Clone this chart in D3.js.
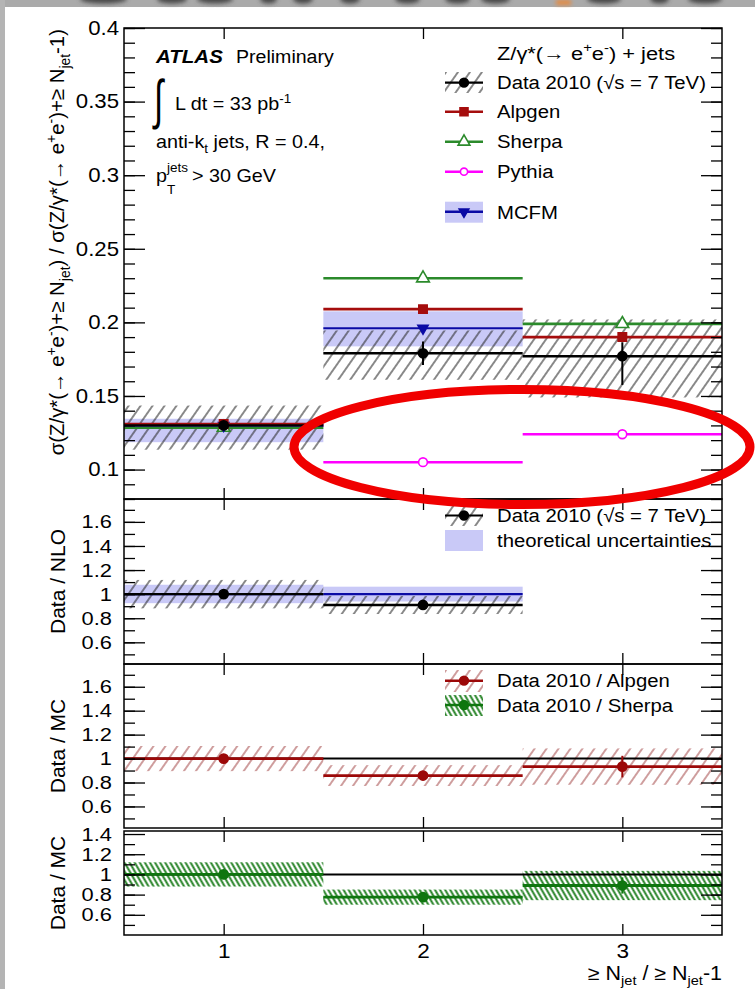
<!DOCTYPE html>
<html>
<head>
<meta charset="utf-8">
<script src="https://cdn.jsdelivr.net/npm/d3@7/dist/d3.min.js"></script>
<style>
html,body{margin:0;padding:0;background:#fff;}
svg{display:block;}
</style>
</head>
<body>
<svg id="chart" width="755" height="989"></svg>
<script>
// ---------------- data ----------------
const binEdges = [0.5, 1.5, 2.5, 3.5];
const nJet = [1, 2, 3];
const xTickLabels = ["1", "2", "3"];

// sigma(>= N jets) / sigma(>= N-1 jets)
const dataRatio  = [0.130, 0.179, 0.177];
const dataStatUp = [0.002, 0.008, 0.0095];
const dataStatDn = [0.002, 0.008, 0.0195];
const dataSystUp = [0.0135, 0.0155, 0.025];
const dataSystDn = [0.0165, 0.018, 0.028];

const alpgenRatio = [0.131, 0.209, 0.190];
const sherpaRatio = [0.1285, 0.230, 0.199];
const pythiaRatio = [0.1298, 0.105, 0.124];
const mcfmRatio   = [0.130, 0.196];
const mcfmLow     = [0.1186, 0.1837];
const mcfmHigh    = [0.1345, 0.2075];

// Data / NLO
const dataOverNlo     = [1.0, 0.91];
const dataOverNloStat = [0.01, 0.04];
const dataOverNloSyst = [0.118, 0.075];
const theoLow         = [0.925, 0.939];
const theoHigh        = [1.078, 1.062];

// Data / MC
const dataOverAlpgen     = [1.0, 0.858, 0.933];
const dataOverAlpgenStat = [0.01, 0.03, 0.09];
const dataOverAlpgenSyst = [0.105, 0.087, 0.152];

const dataOverSherpa     = [1.0, 0.775, 0.89];
const dataOverSherpaStat = [0.01, 0.03, 0.08];
const dataOverSherpaSyst = [0.12, 0.075, 0.145];

// axis ticks
const mainTicks  = [0.1, 0.15, 0.2, 0.25, 0.3, 0.35, 0.4];
const ratioTicks = [0.6, 0.8, 1, 1.2, 1.4, 1.6];
const lowerTicks = [0.6, 0.8, 1, 1.2, 1.4];

// ---------------- styling ----------------
const FONT = '"Liberation Sans", Arial, Helvetica, sans-serif';
const C = {
  data: "#000",
  alpgen: "#a50d0d",
  sherpa: "#2b8a2b",
  pythia: "#ff00ff",
  mcfm: "#0a0aa5",
  band: "#c9c9f7",
  ratioRed: "#9c0808",
  ratioGreen: "#0f760f"
};

const svg = d3.select("#chart");
const defs = svg.append("defs");

function hatch(id, color, width, spacing, angle) {
  const p = defs.append("pattern").attr("id", id)
    .attr("patternUnits", "userSpaceOnUse")
    .attr("width", spacing).attr("height", spacing)
    .attr("patternTransform", `rotate(${angle})`);
  p.append("line").attr("x1", spacing / 2).attr("x2", spacing / 2)
    .attr("y1", -2).attr("y2", spacing + 2)
    .attr("stroke", color).attr("stroke-width", width);
}
hatch("hData", "#2a2a2a", 1.1, 9.8, 35);
hatch("hAlp", "rgba(150,45,45,0.65)", 1.4, 9.8, 35);
hatch("hShe", "#1f7f1f", 1.9, 4.4, -30);

defs.append("filter").attr("id", "soft").attr("x", "-50%").attr("y", "-50%")
  .attr("width", "200%").attr("height", "200%")
  .append("feGaussianBlur").attr("stdDeviation", 2);

const x = d3.scaleLinear().domain([binEdges[0], binEdges[3]]).range([124, 722]);

const panels = {
  main: { y: d3.scaleLinear().domain([0.08, 0.4]).range([499, 28]),
          major: mainTicks, minor: d3.range(8, 41).map(v => v / 100), fs: 20, pad: 5, sx: 1.11 },
  nlo:  { y: d3.scaleLinear().domain([0.42, 1.79]).range([664, 499]),
          major: ratioTicks, minor: d3.range(5, 18).map(v => v / 10), fs: 19, pad: 12, sx: 1.15 },
  alp:  { y: d3.scaleLinear().domain([0.42, 1.79]).range([828, 664]),
          major: ratioTicks, minor: d3.range(5, 18).map(v => v / 10), fs: 19, pad: 12, sx: 1.15 },
  she:  { y: d3.scaleLinear().domain([0.4, 1.43]).range([935, 831]),
          major: lowerTicks, minor: d3.range(5, 14).map(v => v / 10), fs: 19, pad: 12, sx: 1.15 }
};

// screen-edge decoration
svg.append("rect").attr("x", 0).attr("y", 0).attr("width", 755).attr("height", 989).attr("fill", "#fff");
const edge = svg.append("g");
edge.append("rect").attr("x", 0).attr("y", 0).attr("width", 755).attr("height", 7).attr("fill", "#aaaaaa");
edge.append("rect").attr("x", 0).attr("y", 0).attr("width", 5).attr("height", 989).attr("fill", "#b4b4b4");
const topBlobs = [[80,127],[157,187],[197,233],[260,277],[293,313],[340,360],[395,420],[445,470],[481,510],[587,621],[650,669],[688,722]];
edge.selectAll(null).data(topBlobs).join("ellipse")
  .attr("cx", d => (d[0] + d[1]) / 2).attr("cy", -1)
  .attr("rx", d => (d[1] - d[0]) / 2).attr("ry", 4.5)
  .attr("fill", "#4a4a4a").attr("filter", "url(#soft)");
edge.append("rect").attr("x", 556).attr("y", 0).attr("width", 15).attr("height", 5)
  .attr("fill", "#e8893c").attr("filter", "url(#soft)");

// ---------------- helpers ----------------
// text block placed at (px,py), widened horizontally by sx
function rich(g, parts, size, px, py, sx, attrs) {
  const holder = g.append("g").attr("transform", `translate(${px},${py}) scale(${sx},1)`);
  const t = holder.append("text").attr("font-family", FONT).attr("font-size", size).attr("fill", "#000");
  Object.entries(attrs || {}).forEach(([k, v]) => t.attr(k, v));
  let cur = 0;
  parts.forEach(p => {
    const off = p.sub ? size * 0.28 : p.sup ? -size * 0.38 : 0;
    const ts = t.append("tspan").text(p.t).attr("dy", off - cur);
    if (p.sub || p.sup) ts.attr("font-size", size * 0.68);
    if (p.bold) ts.attr("font-weight", "bold");
    if (p.italic) ts.attr("font-style", "italic");
    cur = off;
  });
  return t;
}

function clipFor(id, p) {
  const [b, t] = p.y.range();
  defs.append("clipPath").attr("id", id).append("rect")
    .attr("x", x.range()[0]).attr("y", t).attr("width", x.range()[1] - x.range()[0]).attr("height", b - t);
  return svg.append("g").attr("clip-path", `url(#${id})`);
}

function bins(n) { return d3.range(n); }

function boxes(g, p, n, lo, hi, fill) {
  g.selectAll(null).data(bins(n)).join("rect")
    .attr("x", i => x(binEdges[i])).attr("width", i => x(binEdges[i + 1]) - x(binEdges[i]))
    .attr("y", i => p.y(hi(i))).attr("height", i => p.y(lo(i)) - p.y(hi(i)))
    .attr("fill", fill);
}

function steps(g, p, vals, color, w) {
  g.selectAll(null).data(bins(vals.length)).join("line")
    .attr("x1", i => x(binEdges[i])).attr("x2", i => x(binEdges[i + 1]))
    .attr("y1", i => p.y(vals[i])).attr("y2", i => p.y(vals[i]))
    .attr("stroke", color).attr("stroke-width", w);
}

function errs(g, p, vals, up, dn, color, w) {
  g.selectAll(null).data(bins(vals.length)).join("line")
    .attr("x1", i => x(nJet[i])).attr("x2", i => x(nJet[i]))
    .attr("y1", i => p.y(vals[i] + up[i])).attr("y2", i => p.y(vals[i] - dn[i]))
    .attr("stroke", color).attr("stroke-width", w);
}

function marks(g, p, vals, type, size, fill, stroke, rot) {
  const sym = d3.symbol().type(type).size(size);
  g.selectAll(null).data(bins(vals.length)).join("path")
    .attr("d", sym)
    .attr("transform", i => `translate(${x(nJet[i])},${p.y(vals[i])}) rotate(${rot || 0})`)
    .attr("fill", fill).attr("stroke", stroke).attr("stroke-width", 1.6);
}

function widen(sel, sx) {
  sel.selectAll("text").each(function () {
    const t = d3.select(this);
    const tx = +t.attr("x") || 0;
    t.attr("x", 0).attr("transform", `translate(${tx},0) scale(${sx},1)`);
  });
}

function axes(p, showX) {
  const [bot, top] = p.y.range();
  const [l, r] = x.range();
  const g = svg.append("g").attr("font-family", FONT);
  const style = s => {
    s.select(".domain").remove();
    s.selectAll("line").attr("stroke", "#000").attr("stroke-width", 1.3);
    s.attr("font-family", FONT).attr("font-size", p.fs);
    s.selectAll("text").attr("fill", "#000");
  };
  g.append("g").attr("transform", `translate(${l},0)`)
    .call(d3.axisLeft(p.y).tickValues(p.minor).tickSize(-11).tickFormat(""))
    .call(style);
  g.append("g").attr("transform", `translate(${l},0)`)
    .call(d3.axisLeft(p.y).tickValues(p.major).tickSize(-21).tickPadding(p.pad).tickFormat(d => String(d)))
    .call(style).call(s => widen(s, p.sx));
  g.append("g").attr("transform", `translate(${r},0)`)
    .call(d3.axisRight(p.y).tickValues(p.minor).tickSize(-11).tickFormat(""))
    .call(style);
  g.append("g").attr("transform", `translate(${r},0)`)
    .call(d3.axisRight(p.y).tickValues(p.major).tickSize(-21).tickFormat(""))
    .call(style);
  g.append("g").attr("transform", `translate(0,${top})`)
    .call(d3.axisTop(x).tickValues(nJet).tickSize(-11).tickFormat(""))
    .call(style);
  const bx = g.append("g").attr("transform", `translate(0,${bot})`)
    .call(d3.axisBottom(x).tickValues(nJet).tickSize(-11).tickPadding(8.5)
      .tickFormat(showX ? (d, i) => xTickLabels[i] : ""))
    .call(style);
  if (showX) { bx.attr("font-size", 20.5); widen(bx, 1.1); }
  g.append("rect").attr("x", l).attr("y", top).attr("width", r - l).attr("height", bot - top)
    .attr("fill", "none").attr("stroke", "#000").attr("stroke-width", 1.5);
}

// ---------------- main panel ----------------
{
  const p = panels.main;
  const g = clipFor("cMain", p);
  boxes(g, p, 2, i => mcfmLow[i], i => mcfmHigh[i], C.band);
  boxes(g, p, 3, i => dataRatio[i] - dataSystDn[i], i => dataRatio[i] + dataSystUp[i], "url(#hData)");
  steps(g, p, pythiaRatio, C.pythia, 2.4);
  marks(g, p, pythiaRatio, d3.symbolCircle, 60, "#fff", C.pythia);
  steps(g, p, sherpaRatio, C.sherpa, 2.6);
  marks(g, p, sherpaRatio, d3.symbolTriangle, 70, "#fff", C.sherpa);
  steps(g, p, mcfmRatio, C.mcfm, 2.2);
  marks(g, p, mcfmRatio, d3.symbolTriangle, 45, C.mcfm, C.mcfm, 180);
  steps(g, p, alpgenRatio, C.alpgen, 2.6);
  marks(g, p, alpgenRatio, d3.symbolSquare, 70, C.alpgen, C.alpgen);
  steps(g, p, dataRatio, C.data, 2.4);
  errs(g, p, dataRatio, dataStatUp, dataStatDn, C.data, 2);
  marks(g, p, dataRatio, d3.symbolCircle, 66, C.data, C.data);
  axes(p, false);
}

// ---------------- Data / NLO ----------------
{
  const p = panels.nlo;
  const g = clipFor("cNlo", p);
  boxes(g, p, 2, i => theoLow[i], i => theoHigh[i], C.band);
  boxes(g, p, 2, i => dataOverNlo[i] - dataOverNloSyst[i], i => dataOverNlo[i] + dataOverNloSyst[i], "url(#hData)");
  steps(g, p, [1, 1], C.mcfm, 2.4);
  steps(g, p, dataOverNlo, C.data, 2.4);
  errs(g, p, dataOverNlo, dataOverNloStat, dataOverNloStat, C.data, 2);
  marks(g, p, dataOverNlo, d3.symbolCircle, 66, C.data, C.data);
  axes(p, false);
}

// ---------------- Data / Alpgen ----------------
{
  const p = panels.alp;
  const g = clipFor("cAlp", p);
  boxes(g, p, 3, i => dataOverAlpgen[i] - dataOverAlpgenSyst[i], i => dataOverAlpgen[i] + dataOverAlpgenSyst[i], "url(#hAlp)");
  g.append("line").attr("x1", x(binEdges[0])).attr("x2", x(binEdges[3]))
    .attr("y1", p.y(1)).attr("y2", p.y(1)).attr("stroke", "#000").attr("stroke-width", 2);
  steps(g, p, dataOverAlpgen, C.ratioRed, 2.8);
  errs(g, p, dataOverAlpgen, dataOverAlpgenStat, dataOverAlpgenStat, C.ratioRed, 2);
  marks(g, p, dataOverAlpgen, d3.symbolCircle, 66, C.ratioRed, C.ratioRed);
  axes(p, false);
}

// ---------------- Data / Sherpa ----------------
{
  const p = panels.she;
  const g = clipFor("cShe", p);
  boxes(g, p, 3, i => dataOverSherpa[i] - dataOverSherpaSyst[i], i => dataOverSherpa[i] + dataOverSherpaSyst[i], "url(#hShe)");
  g.append("line").attr("x1", x(binEdges[0])).attr("x2", x(binEdges[3]))
    .attr("y1", p.y(1)).attr("y2", p.y(1)).attr("stroke", "#000").attr("stroke-width", 2);
  steps(g, p, dataOverSherpa, C.ratioGreen, 2.8);
  errs(g, p, dataOverSherpa, dataOverSherpaStat, dataOverSherpaStat, C.ratioGreen, 2);
  marks(g, p, dataOverSherpa, d3.symbolCircle, 66, C.ratioGreen, C.ratioGreen);
  axes(p, true);
}

// ---------------- axis titles ----------------
const titles = svg.append("g");
{
  const t = titles.append("text").attr("font-family", FONT).attr("font-size", 20.4)
    .attr("transform", "translate(64,29) rotate(-90)").attr("text-anchor", "end");
  const parts = [
    { t: "σ(Z/γ*(→ e" }, { t: "+", sup: true }, { t: "e" }, { t: "-", sup: true },
    { t: ")+≥ N" }, { t: "jet", sub: true }, { t: ") / σ(Z/γ*(→ e" }, { t: "+", sup: true },
    { t: "e" }, { t: "-", sup: true }, { t: ")+≥ N" }, { t: "jet", sub: true }, { t: "-1)" }
  ];
  let cur = 0;
  parts.forEach(p => {
    const off = p.sub ? 20.4 * 0.28 : p.sup ? -20.4 * 0.38 : 0;
    const ts = t.append("tspan").text(p.t).attr("dy", off - cur);
    if (p.sub || p.sup) ts.attr("font-size", 20.4 * 0.68);
    cur = off;
  });
}

[["Data / NLO", panels.nlo], ["Data / MC", panels.alp], ["Data / MC", panels.she]].forEach(([t, p]) => {
  const [b, tp] = p.y.range();
  titles.append("text").attr("font-family", FONT).attr("font-size", 21)
    .attr("transform", `translate(65,${(b + tp) / 2}) rotate(-90)`)
    .attr("text-anchor", "middle").text(t);
});

rich(titles, [
  { t: "≥ N" }, { t: "jet", sub: true }, { t: " / ≥ N" }, { t: "jet", sub: true }, { t: "-1" }
], 19.5, 722, 980, 1.1, { "text-anchor": "end" });

// ---------------- annotations ----------------
const ann = svg.append("g");
rich(ann, [{ t: "ATLAS", bold: true, italic: true }], 19, 156, 63, 1.08);
rich(ann, [{ t: "Preliminary" }], 19, 236, 63, 1.03);
ann.append("text").attr("transform", "translate(154,117.5) scale(0.62,1)")
  .attr("font-size", 54).attr("font-weight", 200)
  .attr("font-family", '"DejaVu Sans ExtraLight", "DejaVu Sans", sans-serif').text("∫");
rich(ann, [{ t: "L dt = 33 pb" }, { t: "-1", sup: true }], 19, 175, 110, 1.04);
rich(ann, [{ t: "anti-k" }, { t: "t", sub: true }, { t: " jets, R = 0.4," }], 19, 156, 148, 1.04);
rich(ann, [{ t: "p" }], 19, 156, 182, 1.04);
rich(ann, [{ t: "jets" }], 13, 167, 172, 1.04);
rich(ann, [{ t: "T" }], 13, 167, 194, 1.04);
rich(ann, [{ t: "> 30 GeV" }], 19, 192, 182, 1.04);

// ---------------- legends ----------------
const lg = svg.append("g");
const LX0 = 445, LX1 = 483, LXM = 464, TX = 497, LSX = 1.07;
function legLine(yc, color, w) {
  lg.append("line").attr("x1", LX0).attr("x2", LX1).attr("y1", yc).attr("y2", yc)
    .attr("stroke", color).attr("stroke-width", w);
}
function legMark(yc, type, size, fill, stroke, rot) {
  lg.append("path").attr("d", d3.symbol().type(type).size(size))
    .attr("transform", `translate(${LXM},${yc}) rotate(${rot || 0})`)
    .attr("fill", fill).attr("stroke", stroke).attr("stroke-width", 1.6);
}
function legBox(y0, y1, fill) {
  lg.append("rect").attr("x", LX0).attr("y", y0).attr("width", LX1 - LX0).attr("height", y1 - y0).attr("fill", fill);
}
function legText(yb, t) {
  rich(lg, [{ t }], 19, TX, yb, LSX);
}

rich(lg, [{ t: "Z/γ*(→ e" }, { t: "+", sup: true }, { t: "e" }, { t: "-", sup: true }, { t: ") + jets" }], 19, TX, 59.5, 1.15);
legBox(72, 93, "url(#hData)"); legLine(82.7, C.data, 2.2); legMark(82.7, d3.symbolCircle, 60, C.data, C.data);
legText(89, "Data 2010 (√s = 7 TeV)");
legLine(111.7, C.alpgen, 2.6); legMark(111.7, d3.symbolSquare, 64, C.alpgen, C.alpgen);
legText(118.3, "Alpgen");
legLine(141.7, C.sherpa, 2.6); legMark(141.7, d3.symbolTriangle, 60, "#fff", C.sherpa);
legText(148.3, "Sherpa");
legLine(171.7, C.pythia, 2.4); legMark(171.7, d3.symbolCircle, 40, "#fff", C.pythia);
legText(178.3, "Pythia");
legBox(201.7, 222.7, C.band); legLine(211.7, C.mcfm, 2.4); legMark(211.7, d3.symbolTriangle, 40, C.mcfm, C.mcfm, 180);
legText(219, "MCFM");

legBox(505, 526, "url(#hData)"); legLine(515.5, C.data, 2.2); legMark(515.5, d3.symbolCircle, 60, C.data, C.data);
legText(521.7, "Data 2010 (√s = 7 TeV)");
legBox(530, 551, C.band);
legText(547, "theoretical uncertainties");

legBox(670, 692, "url(#hAlp)"); legLine(680.7, C.ratioRed, 2.6); legMark(680.7, d3.symbolCircle, 60, C.ratioRed, C.ratioRed);
legText(687, "Data 2010 / Alpgen");
legBox(695, 716, "url(#hShe)"); legLine(705, C.ratioGreen, 2.6); legMark(705, d3.symbolCircle, 60, C.ratioGreen, C.ratioGreen);
legText(711.7, "Data 2010 / Sherpa");

// ---------------- highlight ring ----------------
svg.append("ellipse").attr("cx", 522).attr("cy", 447).attr("rx", 228).attr("ry", 57.5)
  .attr("fill", "none").attr("stroke", "#f00000").attr("stroke-width", 9);
</script>
</body>
</html>
